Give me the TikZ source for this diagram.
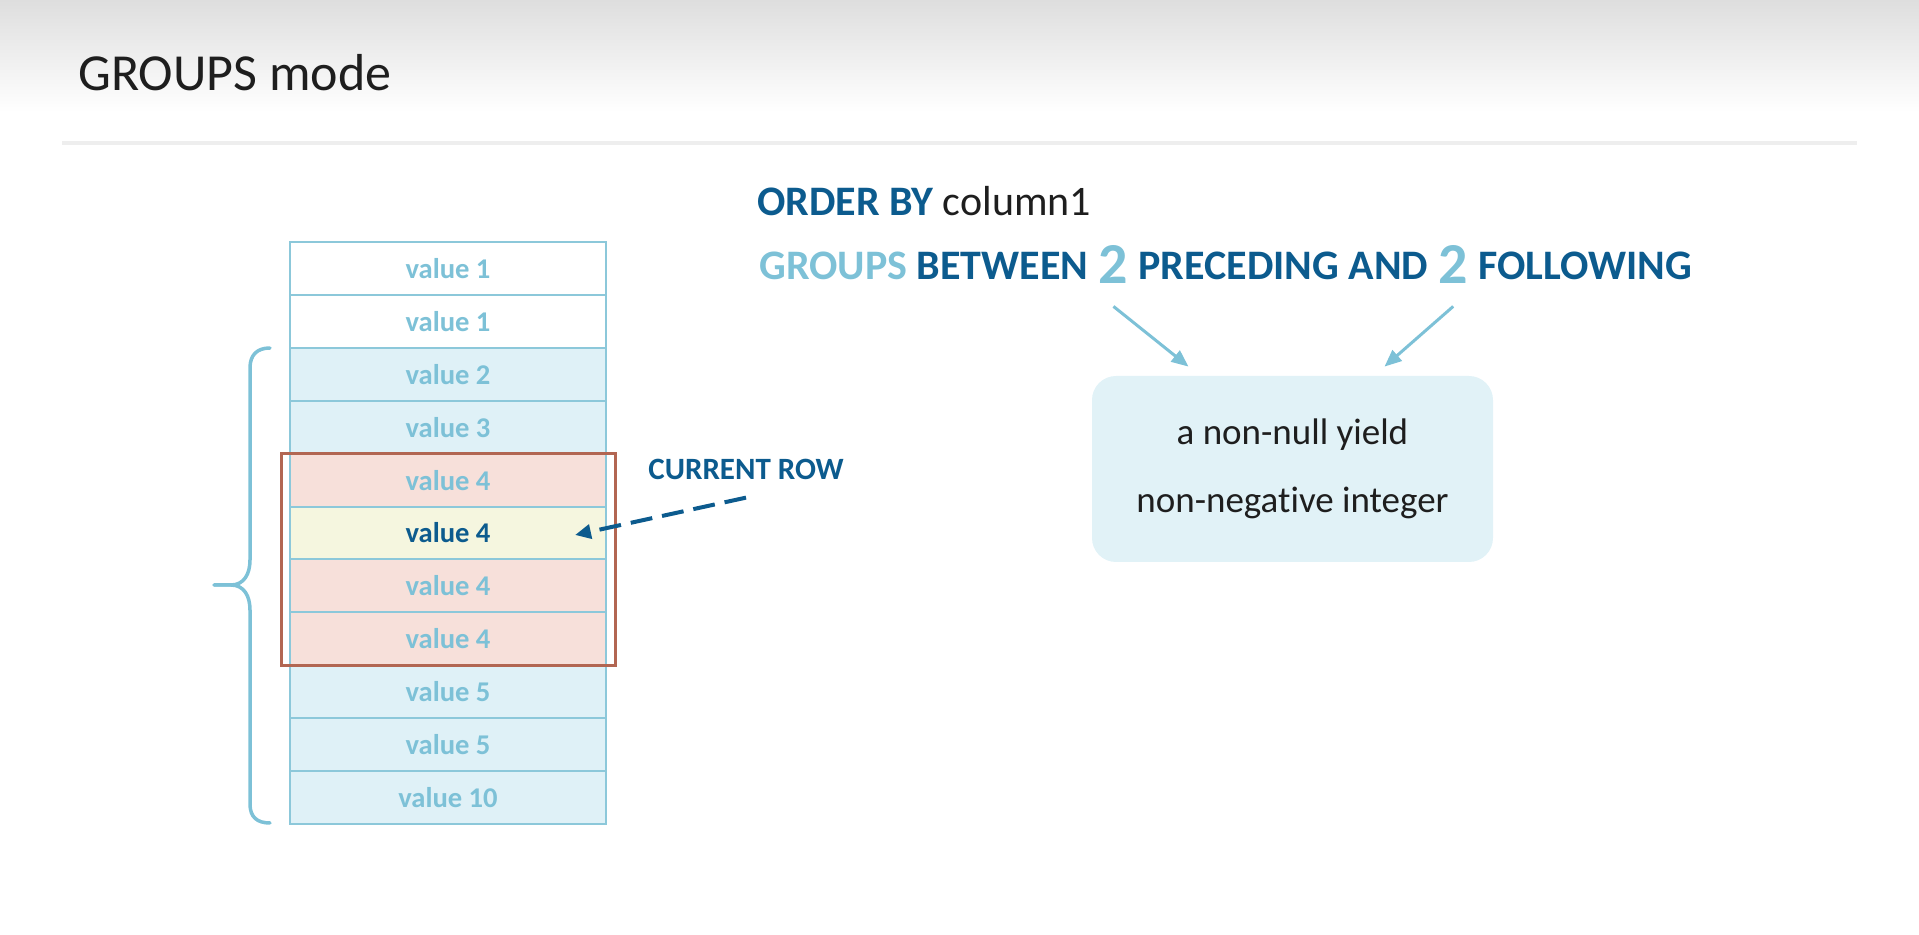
\documentclass[tikz,border=0pt]{standalone}
\usepackage{fontspec}
\setmainfont{Carlito}[Ligatures=CommonOff]
\usepackage{tikz}
\usetikzlibrary{arrows.meta, positioning, calc}
\usepackage{xcolor}
\definecolor{Ink}{HTML}{1E1E1E}
\definecolor{Deep}{HTML}{0C5B8E}
\definecolor{Sky}{HTML}{7DC1D7}
\definecolor{CellLine}{HTML}{8CC8DA}
\definecolor{CellFill}{HTML}{DFF1F7}
\definecolor{PeakFill}{HTML}{F7E0DA}
\definecolor{CurFill}{HTML}{F5F6DF}
\definecolor{Frame}{HTML}{B26652}
\definecolor{BoxFill}{HTML}{E1F2F7}
\definecolor{HeadTop}{HTML}{DEDEDE}
\definecolor{Rule}{HTML}{EEEEEE}

\begin{document}
\begin{tikzpicture}[
            x=0.5pt, y=-0.5pt,
            node distance=0pt,
            cell/.style={
                rectangle,
                draw=CellLine,
                line width=1pt,
                fill=CellFill,
                minimum width=158pt,
                minimum height=26.45pt,
                inner sep=0pt,
                outer sep=0pt,
                font=\bfseries\fontsize{14.3}{16}\selectfont,
                text=Sky
            },
            peakcell/.style={cell, fill=PeakFill},
            kw/.style={inner sep=0pt, font=\bfseries\fontsize{21}{25}\selectfont, text=Deep},
            num/.style={inner sep=0pt, font=\bfseries\fontsize{29}{33}\selectfont, text=Sky},
            yieldbox/.style={
                rectangle,
                fill=BoxFill,
                rounded corners=12pt,
                minimum width=200.5pt,
                minimum height=93pt,
                align=center,
                font=\fontsize{18.5}{34}\selectfont,
                text=Ink
            },
            pick/.style={-{Triangle[length=8.5pt,width=7pt]}, line width=1.5pt, color=Sky},
            curarrow/.style={-{Triangle[length=8pt,width=7pt]}, line width=2pt, color=Deep, dash pattern=on 11pt off 5pt},
            brace/.style={line width=1.75pt, color=Sky, line cap=round}
        ]
            \useasboundingbox (0,0) rectangle (1919,935);

            % Header band
            \shade[top color=HeadTop, bottom color=white] (0,0) rectangle (1919,112);
            \node[anchor=base west, inner sep=0pt, font=\fontsize{26}{30}\selectfont, text=Ink] (title) at (78,91) {GROUPS mode};
            \draw[Rule, line width=1.75pt] (62,143) -- (1857,143);

            % Column of values
            \node[cell, fill=white] (r1) at (448,268.5) {value 1};
            \node[cell, fill=white, below=of r1] (r2) {value 1};
            \node[cell, below=of r2] (r3) {value 2};
            \node[cell, below=of r3] (r4) {value 3};
            \node[peakcell, below=of r4] (r5) {value 4};
            \node[cell, fill=CurFill, text=Deep, below=of r5] (r6) {value 4};
            \node[peakcell, below=of r6] (r7) {value 4};
            \node[peakcell, below=of r7] (r8) {value 4};
            \node[cell, below=of r8] (r9) {value 5};
            \node[cell, below=of r9] (r10) {value 5};
            \node[cell, below=of r10] (r11) {value 10};

            % Peer group frame
            \draw[Frame, line width=1.5pt] ([xshift=-4.5pt]r5.north west) rectangle ([xshift=4.5pt]r8.south east);

            % Brace over the frame
            \draw[brace] (270,348) .. controls (257,348) and (250,355) .. (250,368) -- (250,560)
                .. controls (250,574) and (244,585) .. (231,585) -- (214,585);
            \draw[brace] (214,585) -- (231,585) .. controls (244,585) and (250,596) .. (250,610)
                -- (250,804) .. controls (250,817) and (257,823) .. (270,823);

            % Current row
            \node[kw, anchor=base west, font=\bfseries\fontsize{15.5}{18}\selectfont] (cur) at (648,480) {CURRENT ROW};
            \draw[curarrow] ([yshift=-8.5pt]cur.south) -- ([xshift=-15.5pt,yshift=-1pt]r6.east);

            % Frame clause
            \node[kw, anchor=base west] (order) at (757,216) {ORDER BY \textcolor{Ink}{\mdseries column1}};
            \node[kw, anchor=base west] (lead) at (759,280) {\textcolor{Sky}{GROUPS} BETWEEN};
            \node[num, anchor=base west] (twoa) at ([xshift=4.75pt]lead.base east) {\raisebox{-2pt}{2}};
            \node[kw, anchor=base west] (prec) at ([xshift=4.75pt]twoa.base east) {PRECEDING AND};
            \node[num, anchor=base west] (twob) at ([xshift=4.75pt]prec.base east) {\raisebox{-2pt}{2}};
            \node[kw, anchor=base west] (foll) at ([xshift=4.75pt]twob.base east) {FOLLOWING};

            \node[yieldbox] (yield) at (1292.5,469) {a non-null yield\\non-negative integer};

            \draw[pick] ([yshift=-11pt]twoa.south) -- ([xshift=-52pt,yshift=4.5pt]yield.north);
            \draw[pick] ([yshift=-11pt]twob.south) -- ([xshift=46pt,yshift=4.5pt]yield.north);
        \end{tikzpicture}
\end{document}
